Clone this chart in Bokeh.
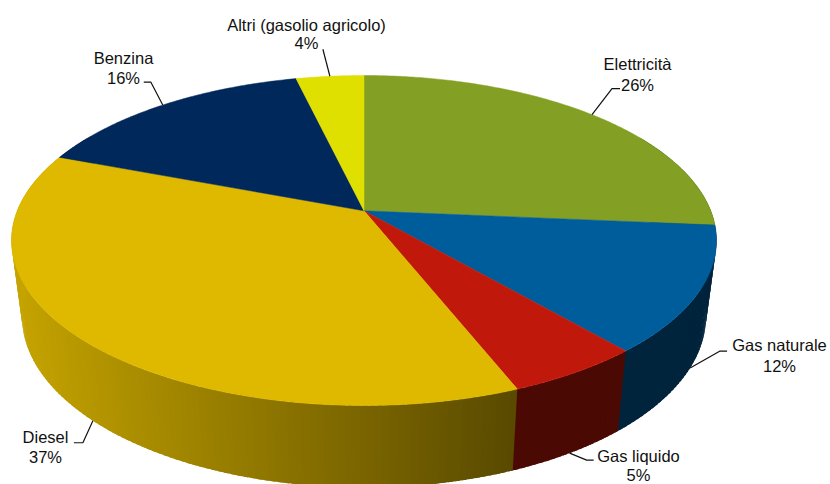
import numpy as np
from bokeh.plotting import figure
from bokeh.models import Range1d
from bokeh.core.properties import value
from bokeh.embed import file_html
from bokeh.resources import INLINE

# Data (share of total)
categories = ["Elettricità", "Gas naturale", "Gas liquido", "Diesel", "Benzina", "Altri (gasolio agricolo)"]
shares = [26.4, 12.3, 5.3, 36.8, 15.5, 3.7]
percent_labels = ["26%", "12%", "5%", "37%", "16%", "4%"]
colors = ["#84A024", "#005D9B", "#C0180A", "#DFB900", "#00285A", "#DFDF00"]

# Layout of the 3D pie (pixels of the picture)
CX = 363.5
TOP = dict(cy=240.0, rx=352.5, ry=165.0)
LOW = dict(cy=316.0, rx=342.0, ry=171.0)
C = 0.18  # perspective shift of the pie's centre


def project(theta_deg, e):
    """Clockwise angle from the top -> point on a perspective ellipse."""
    t = np.radians(theta_deg)
    u, v = np.sin(t), np.cos(t)
    d = 1 + C * v
    return CX + e["rx"] * u * np.sqrt(1 - C * C) / d, e["cy"] - e["ry"] * (v + C) / d


def rgb(col, f=1.0):
    r, g, b = int(col[1:3], 16), int(col[3:5], 16), int(col[5:7], 16)
    return "#%02X%02X%02X" % (round(r * f), round(g * f), round(b * f))


edges = np.concatenate([[0], np.cumsum(shares)]) / sum(shares) * 360.0
mids = (edges[:-1] + edges[1:]) / 2

p = figure(width=830, height=484, output_backend="svg", toolbar_location=None,
           x_range=Range1d(0, 830), y_range=Range1d(484, 0), min_border=0,
           outline_line_color=None)
p.axis.visible = False
p.grid.visible = False

# Side wall, as shaded strips that overlap the next one so no seams show
wx, wy, wc = [], [], []
for i in range(len(shares)):
    a, b = max(edges[i], 60.0), min(edges[i + 1], 300.0)
    if b <= a:
        continue
    th = np.linspace(a, b, max(2, int(b - a) + 1))
    for t0, t1 in zip(th[:-1], th[1:]):
        te = t1 + 0.7
        x0, y0 = project(t0, TOP)
        x1, y1 = project(te, TOP)
        x2, y2 = project(te, LOW)
        x3, y3 = project(t0, LOW)
        xm = (x0 + x3) / 2
        f = max(0.39, 0.88 - 0.48 * (xm - 20) / 495)
        wx.append([x0, x1, x2, x3])
        wy.append([y0, y1, y2, y3])
        wc.append(rgb(colors[i], f))
p.patches(wx, wy, fill_color=wc, line_color=None)

# Top faces
apex = CX, TOP["cy"] - TOP["ry"] * C
tx, ty = [], []
for i in range(len(shares)):
    th = np.linspace(edges[i], edges[i + 1], int(edges[i + 1] - edges[i]) * 2 + 2)
    x, y = project(th, TOP)
    tx.append([apex[0], *x])
    ty.append([apex[1], *y])
p.patches(tx, ty, fill_color=colors, line_color=colors, line_width=0.5)

# Leaders: (wall?, elbow offset from anchor, end offset from anchor)
leaders = [(False, (20, -26), (28, -26)),
           (True, (30, -17), (37, -17)),
           (True, (17, 7), (24, 7)),
           (True, (-10, 22), (-19, 22)),
           (False, (-12, -23), (-19, -23)),
           (False, (-7, -27), (-7, -27))]
for m, (wall, e1, e2) in zip(mids, leaders):
    ax, ay = project(m, LOW if wall else TOP)
    p.line([ax, ax + e1[0], ax + e2[0]], [ay, ay + e1[1], ay + e2[1]],
           line_color="#111111", line_width=1.2)

# Labels
label_x = [637, 779, 638, 45, 123, 306]
label_y = [63, 344, 455, 436, 57, 24]
line_gap = [21, 21, 19, 20, 20, 18]
p.text(label_x, label_y, text=categories, text_font=value("Liberation Sans"), text_font_size="16.5px",
       text_align="center", text_baseline="middle", text_color="#111111")
p.text(label_x, [y + g for y, g in zip(label_y, line_gap)], text=percent_labels,
       text_font=value("Liberation Sans"), text_font_size="16.5px",
       text_align="center", text_baseline="middle", text_color="#111111")

open("out.html", "w").write(file_html(p, INLINE))
